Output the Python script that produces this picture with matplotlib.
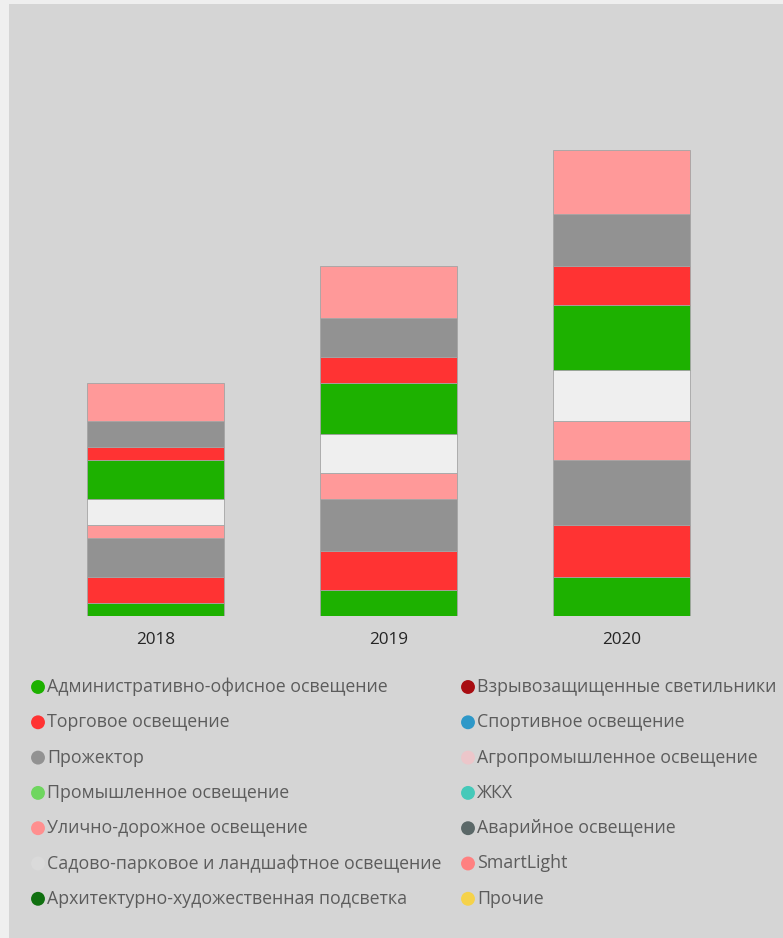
import matplotlib.pyplot as plt
from matplotlib.patches import Rectangle
import numpy as np

plt.rcParams['font.family'] = ['Open Sans', 'DejaVu Sans']

# Years on the x axis
years = ["2018", "2019", "2020"]

# Stacked layers, bottom to top, one value per year
layer_values = [
    [1, 2, 3],
    [2, 3, 4],
    [3, 4, 5],
    [1, 2, 3],
    [2, 3, 4],
    [3, 4, 5],
    [1, 2, 3],
    [2, 3, 4],
    [3, 4, 5],
]
layer_colors = ["#1db100", "#ff3333", "#929292", "#ff9999", "#efefef",
                "#1db100", "#ff3333", "#929292", "#ff9999"]

# Legend entries (two columns)
legend_left = [
    "Административно-офисное освещение",
    "Торговое освещение",
    "Прожектор",
    "Промышленное освещение",
    "Улично-дорожное освещение",
    "Садово-парковое и ландшафтное освещение",
    "Архитектурно-художественная подсветка",
]
legend_left_colors = ["#1db100", "#ff3333", "#929292", "#6fd65f",
                      "#ff8f8f", "#dadada", "#107010"]
legend_right = [
    "Взрывозащищенные светильники",
    "Спортивное освещение",
    "Агропромышленное освещение",
    "ЖКХ",
    "Аварийное освещение",
    "SmartLight",
    "Прочие",
]
legend_right_colors = ["#a80d12", "#2e98c8", "#ecc6ca", "#45c9b9",
                       "#5b6868", "#ff8080", "#f5d24a"]

W, H = 783, 938
fig = plt.figure(figsize=(W / 100, H / 100), dpi=100, facecolor="#efefef")
fig.patches.append(Rectangle((9 / W, 0), 1 - 9 / W, 1 - 4 / H,
                             transform=fig.transFigure, facecolor="#d5d5d5",
                             edgecolor="none", zorder=-10))

# plot area in pixels: left 9, right 783, top 4, bottom 615.5
ax = fig.add_axes([9 / W, (H - 615.5) / H, (W - 9) / W, (615.5 - 4) / H])
ax.set_facecolor("none")

x = np.arange(len(years))
bottom = np.zeros(len(years))
for vals, col in zip(layer_values, layer_colors):
    ax.bar(x, vals, width=0.588, bottom=bottom, color=col,
           edgecolor="#a4a4a4", linewidth=0.6)
    bottom += np.array(vals)

ax.set_xlim((9 - 155.5) / 233, (783 - 155.5) / 233)
ax.set_ylim(0, (615.5 - 4) / 12.94)
ax.set_xticks(x)
ax.set_xticklabels(years, fontsize=12.3, color="#252525")
ax.tick_params(axis="x", length=0, pad=12)
ax.set_yticks([])
for s in ax.spines.values():
    s.set_visible(False)

# legend drawn in pixel coordinates
lax = fig.add_axes([0, 0, 1, 1])
lax.set_xlim(0, W)
lax.set_ylim(H, 0)
lax.axis("off")
row_y = 687 + 35.3 * np.arange(7)
for names, cols, mx in [(legend_left, legend_left_colors, 38),
                        (legend_right, legend_right_colors, 468)]:
    lax.scatter(np.full(len(names), mx), row_y, s=100, c=cols, linewidths=0)
    for name, y in zip(names, row_y):
        lax.text(mx + 9, y, name, fontsize=12.8, color="#5c5c5c",
                 va="center", ha="left")

fig.savefig("out.png", dpi=100, facecolor=fig.get_facecolor())
